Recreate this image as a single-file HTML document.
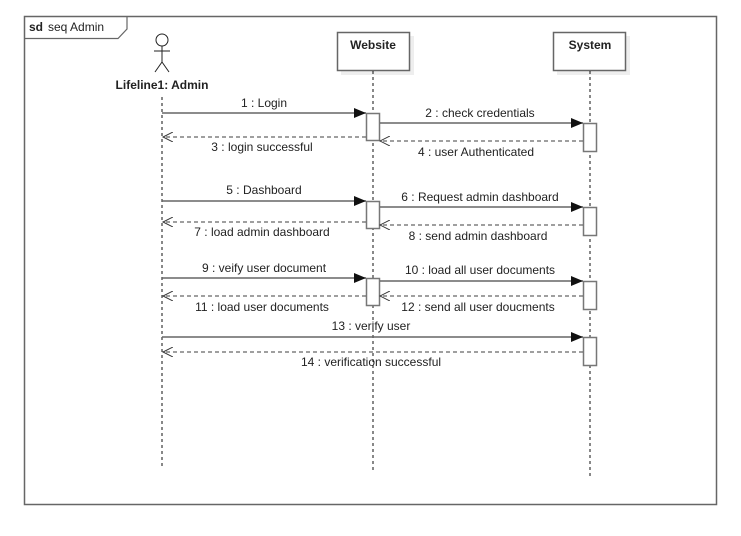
<!DOCTYPE html><html><head><style>body{margin:0;background:#fff}svg text{font-family:"Liberation Sans",sans-serif;font-size:12px;fill:#222}</style></head><body>
<svg width="741" height="531" xmlns="http://www.w3.org/2000/svg">
<defs>
<marker id="f" markerWidth="12" markerHeight="10" refX="12" refY="5" orient="auto" markerUnits="userSpaceOnUse"><path d="M0,0 L12,5 L0,10 Z" fill="#111"/></marker>
<marker id="o" markerWidth="12" markerHeight="10" refX="10" refY="5" orient="auto" markerUnits="userSpaceOnUse"><path d="M0,0 L10,5 L0,10" fill="none" stroke="#333" stroke-width="1"/></marker>
</defs>
<rect x="24.5" y="16.5" width="692" height="488" fill="none" stroke="#666" stroke-width="1.5"/>
<path d="M24.5 38.5 H118 L127 29 V16.5" fill="none" stroke="#666" stroke-width="1.2"/>
<text x="29" y="31" font-weight="bold">sd</text><text x="48" y="31">seq Admin</text>
<g stroke="#222" fill="none" stroke-width="1"><circle cx="162" cy="40" r="6"/><line x1="162" y1="46" x2="162" y2="62"/><line x1="154" y1="51" x2="170" y2="51"/><line x1="162" y1="62" x2="155" y2="72"/><line x1="162" y1="62" x2="169" y2="72"/></g>
<text x="162" y="89" text-anchor="middle" font-weight="bold">Lifeline1: Admin</text>
<rect x="341" y="36" width="73" height="39" fill="#eee"/>
<rect x="337.5" y="32.5" width="72" height="38" fill="#fff" stroke="#666" stroke-width="1.5"/>
<text x="373" y="49" text-anchor="middle" font-weight="bold">Website</text>
<rect x="557" y="36" width="73" height="39" fill="#eee"/>
<rect x="553.5" y="32.5" width="72" height="38" fill="#fff" stroke="#666" stroke-width="1.5"/>
<text x="590" y="49" text-anchor="middle" font-weight="bold">System</text>
<g stroke="#111" stroke-dasharray="3,3"><line x1="162" y1="97" x2="162" y2="466"/><line x1="373" y1="71" x2="373" y2="472"/><line x1="590" y1="71" x2="590" y2="478"/></g>
<g fill="#fff" stroke="#777" stroke-width="1.5">
<rect x="366.5" y="113.5" width="13" height="27"/><rect x="583.5" y="123.5" width="13" height="28"/>
<rect x="366.5" y="201.5" width="13" height="27"/><rect x="583.5" y="207.5" width="13" height="28"/>
<rect x="366.5" y="278.5" width="13" height="27"/><rect x="583.5" y="281.5" width="13" height="28"/>
<rect x="583.5" y="337.5" width="13" height="28"/></g>
<g stroke="#666" stroke-width="1.5" marker-end="url(#f)">
<line x1="162" y1="113" x2="366" y2="113"/><line x1="380" y1="123" x2="583" y2="123"/>
<line x1="162" y1="201" x2="366" y2="201"/><line x1="380" y1="207" x2="583" y2="207"/>
<line x1="162" y1="278" x2="366" y2="278"/><line x1="380" y1="281" x2="583" y2="281"/>
<line x1="162" y1="337" x2="583" y2="337"/></g>
<g stroke="#666" stroke-width="1.2" stroke-dasharray="4,3" marker-end="url(#o)">
<line x1="366" y1="137" x2="163" y2="137"/><line x1="583" y1="141" x2="380" y2="141"/>
<line x1="366" y1="222" x2="163" y2="222"/><line x1="583" y1="225" x2="380" y2="225"/>
<line x1="366" y1="296" x2="163" y2="296"/><line x1="583" y1="296" x2="380" y2="296"/>
<line x1="583" y1="352" x2="163" y2="352"/></g>
<g text-anchor="middle">
<text x="264" y="107">1 : Login</text><text x="480" y="117">2 : check credentials</text>
<text x="262" y="151">3 : login successful</text><text x="476" y="156">4 : user Authenticated</text>
<text x="264" y="194">5 : Dashboard</text><text x="480" y="201">6 : Request admin dashboard</text>
<text x="262" y="236">7 : load admin dashboard</text><text x="478" y="240">8 : send admin dashboard</text>
<text x="264" y="272">9 : veify user document</text><text x="480" y="274">10 : load all user documents</text>
<text x="262" y="311">11 : load user documents</text><text x="478" y="311">12 : send all user doucments</text>
<text x="371" y="330">13 : verify user</text><text x="371" y="366">14 : verification successful</text>
</g>
</svg></body></html>
